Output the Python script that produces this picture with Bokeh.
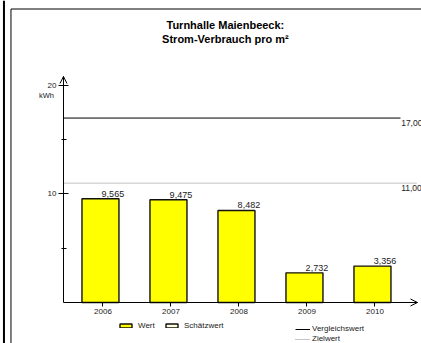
from bokeh.plotting import figure
from bokeh.models import (ColumnDataSource, FixedTicker, Range1d, Arrow, OpenHead,
                          Label, Legend, LegendItem, LinearAxis)
from bokeh.core.properties import value
from bokeh.transform import dodge
from bokeh.embed import file_html
from bokeh.resources import INLINE

# ---- data ----
years = ["2006", "2007", "2008", "2009", "2010"]
values = [9.565, 9.475, 8.482, 2.732, 3.356]
estimated = [False, False, False, False, False]   # no value is a Schätzwert
value_labels = ["9,565", "9,475", "8,482", "2,732", "3,356"]
vergleichswert = 17.0
zielwert = 11.0
ref_labels = ["17,00", "11,00"]
y_ticks = [10, 20]
y_minor = [5, 15]
title_lines = ["Turnhalle Maienbeeck:", "Strom-Verbrauch pro m²"]
unit = "kWh"
legend_labels = ["Wert", "Schätzwert", "Vergleichswert", "Zielwert"]

FONT = "Liberation Sans"
TXT = "#222222"

idx = list(range(len(years)))
measured_top = [float("nan") if e else v for v, e in zip(values, estimated)]
estimated_top = [v if e else float("nan") for v, e in zip(values, estimated)]
src = ColumnDataSource(dict(x=idx, top=measured_top, est=estimated_top,
                            val=values, lab=value_labels))

# whole canvas is the plot frame; axes sit at fixed locations inside it
XL, XR = -1.507, 4.684      # left / right edge of the canvas in data units
YB, YT = -3.779, 27.834     # bottom / top edge of the canvas in data units
AX_X = -0.581               # where the value axis stands
X_END = 4.625               # tip of the category axis arrow
Y_END = 20.83               # tip of the value axis arrow

p = figure(width=421, height=343, x_range=Range1d(XL, XR), y_range=Range1d(YB, YT),
           output_backend="svg", toolbar_location=None,
           x_axis_type=None, y_axis_type=None,
           min_border_left=0, min_border_right=0, min_border_top=0, min_border_bottom=0)
p.outline_line_color = None

# page frame lines
p.segment(x0=[-1.456], y0=[YT], x1=[-1.456], y1=[YB], line_color="black", line_width=2)
p.segment(x0=[-1.353, -1.353], y0=[27.05, 27.05], x1=[-1.353, XR], y1=[YB, 27.05],
          line_color="black", line_width=1)

# axes
yax = LinearAxis(ticker=FixedTicker(ticks=y_ticks, minor_ticks=y_minor), bounds=(0, Y_END),
                 fixed_location=AX_X,
                 axis_line_color="black", axis_line_width=1,
                 major_tick_in=5, major_tick_out=5, minor_tick_in=3, minor_tick_out=2,
                 major_tick_line_color="black", minor_tick_line_color="black",
                 major_label_standoff=2, major_label_text_font_size="8px",
                 major_label_text_font=FONT, major_label_text_color=TXT)
p.add_layout(yax, "left")

xax = LinearAxis(ticker=FixedTicker(ticks=idx),
                 major_label_overrides={i: y for i, y in zip(idx, years)},
                 bounds=(AX_X, X_END), fixed_location=0,
                 axis_line_color="black", axis_line_width=1,
                 major_tick_in=0, major_tick_out=4, minor_tick_line_color=None,
                 major_tick_line_color="black",
                 major_label_standoff=3, major_label_text_font_size="8px",
                 major_label_text_font=FONT, major_label_text_color=TXT)
p.add_layout(xax, "below")

# axis arrows
p.add_layout(Arrow(end=OpenHead(size=7, line_width=1, line_color="black"),
                   x_start=AX_X, y_start=19.5, x_end=AX_X, y_end=Y_END, line_color="black"))
p.add_layout(Arrow(end=OpenHead(size=7, line_width=1, line_color="black"),
                   x_start=4.4, y_start=0, x_end=X_END, y_end=0, line_color="black"))

# bars
bars = p.vbar(x=dodge("x", -0.037), top="top", bottom=0, width=0.544, source=src,
              fill_color="#FFFF00", line_color="#111111", line_width=1.4)
est = p.vbar(x=dodge("x", -0.037), top="est", bottom=0, width=0.544, source=src,
             fill_color="#FFFFE0", line_color="#111111", line_width=1.4)

p.text(x=dodge("x", -0.02), y="val", text="lab", source=src, text_baseline="bottom",
       text_align="left", y_offset=-2,
       text_font=value(FONT), text_font_size="9px", text_color=TXT)

# reference lines
verg = p.segment(x0=[AX_X], y0=[vergleichswert], x1=[4.375], y1=[vergleichswert],
                 line_color="black", line_width=1)
ziel = p.segment(x0=[AX_X], y0=[zielwert], x1=[4.61], y1=[zielwert],
                 line_color="#888888", line_width=1, line_dash="1 1")
p.text(x=[4.385, 4.385], y=[vergleichswert, zielwert], text=ref_labels,
       text_baseline="top", text_align="left", y_offset=2,
       text_font=value(FONT), text_font_size="8.5px", text_color=TXT)

# title & unit
p.add_layout(Label(x=1.80, y=25.53, text=title_lines[0], text_align="center",
                   text_baseline="middle", text_font=FONT, text_font_size="11px",
                   text_font_style="bold", text_color="black"))
p.add_layout(Label(x=1.80, y=24.24, text=title_lines[1], text_align="center",
                   text_baseline="middle", text_font=FONT, text_font_size="11px",
                   text_font_style="bold", text_color="black"))
p.add_layout(Label(x=-0.831, y=19.08, text=unit, text_align="center",
                   text_baseline="middle", text_font=FONT, text_font_size="7.5px",
                   text_color=TXT))

# legends
def style_legend(lg):
    lg.padding = 0
    lg.margin = 0
    lg.border_line_alpha = 0
    lg.background_fill_alpha = 0
    lg.label_text_font = FONT
    lg.label_text_font_size = "8px"
    lg.label_text_color = TXT
    lg.glyph_width = 15
    lg.label_height = 8
    lg.label_standoff = 5

lg1 = Legend(items=[LegendItem(label=legend_labels[0], renderers=[bars]),
                    LegendItem(label=legend_labels[1], renderers=[est])],
             orientation="horizontal", location=(118, 13))
style_legend(lg1)
lg1.glyph_height = 5
lg1.spacing = 6
p.add_layout(lg1)

lg2 = Legend(items=[LegendItem(label=legend_labels[2], renderers=[verg]),
                    LegendItem(label=legend_labels[3], renderers=[ziel])],
             orientation="vertical", location=(295, 0))
style_legend(lg2)
lg2.glyph_height = 8
lg2.label_standoff = 2
lg2.spacing = 1
p.add_layout(lg2)

open("out.html", "w").write(file_html(p, INLINE))
